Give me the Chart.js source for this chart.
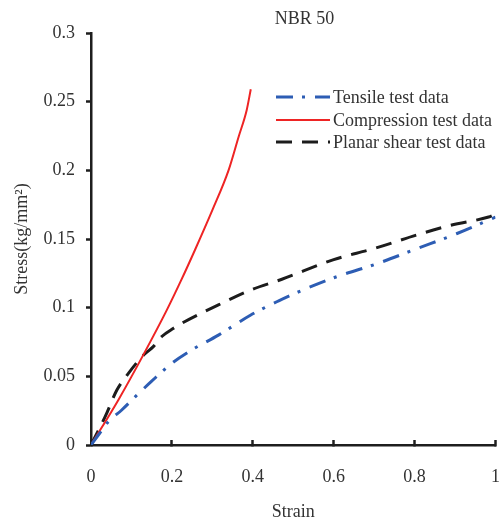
<!DOCTYPE html>
<html><head><meta charset="utf-8">
<script src="https://cdn.jsdelivr.net/npm/chart.js@4/dist/chart.umd.min.js"></script>
<style>html,body{margin:0;padding:0;background:#fff}</style>
</head><body>
<canvas id="c" width="500" height="523"></canvas>
<script>
const chartTitle = "NBR 50";
const xTitle = "Strain";
const yTitle = "Stress(kg/mm\u00B2)";
const seriesNames = ["Tensile test data", "Compression test data", "Planar shear test data"];

const tensileStrain = [0, 0.02, 0.043, 0.076, 0.109, 0.15, 0.2, 0.249, 0.315, 0.394, 0.464, 0.501, 0.608, 0.707, 0.806, 0.905, 1.0];
const tensileStress = [0, 0.008, 0.017, 0.0255, 0.035, 0.0465, 0.0595, 0.0692, 0.080, 0.0945, 0.105, 0.110, 0.1226, 0.132, 0.143, 0.154, 0.166];

const compStrain = [0, 0.068, 0.13, 0.187, 0.223, 0.257, 0.3, 0.34, 0.365, 0.385, 0.395];
const compStress = [0, 0.033, 0.066, 0.098, 0.120, 0.142, 0.171, 0.200, 0.2245, 0.244, 0.259];

const shearStrain = [0, 0.035, 0.064, 0.092, 0.13, 0.154, 0.175, 0.204, 0.224, 0.315, 0.396, 0.472, 0.6, 0.699, 0.806, 0.889, 0.983, 1.0];
const shearStress = [0, 0.0206, 0.040, 0.052, 0.0655, 0.0716, 0.079, 0.085, 0.0886, 0.102, 0.113, 0.1207, 0.135, 0.143, 0.153, 0.160, 0.166, 0.168];

const xMin = 0, xMax = 1, xStep = 0.2;
const yMin = 0, yMax = 0.3, yStep = 0.05;

function pts(xs, ys) { return xs.map((x, i) => ({x: x, y: ys[i]})); }

const FONT = "'Liberation Serif', 'DejaVu Serif', serif";
const TEXT = '#333';
const AXIS = '#1e1e1e';

const overlay = {
  id: 'overlay',
  afterDraw(chart) {
    const ctx = chart.ctx;
    ctx.save();
    ctx.fillStyle = TEXT;
    ctx.font = "18px " + FONT;
    ctx.textAlign = 'center';
    ctx.textBaseline = 'middle';
    ctx.fillText(chartTitle, 304.5, 19);
    const rows = [97, 120, 142];
    chart.data.datasets.forEach((ds, i) => {
      const y = rows[i];
      ctx.save();
      ctx.strokeStyle = ds.borderColor;
      ctx.lineWidth = ds.borderWidth;
      ctx.setLineDash(ds.borderDash || []);
      ctx.beginPath();
      ctx.moveTo(276, y);
      ctx.lineTo(330, y);
      ctx.stroke();
      ctx.restore();
      ctx.fillStyle = TEXT;
      ctx.textAlign = 'left';
      ctx.fillText(ds.label, 333, y + 1);
    });
    ctx.restore();
  }
};

new Chart(document.getElementById('c'), {
  type: 'scatter',
  data: {
    datasets: [
      {label: seriesNames[0], data: pts(tensileStrain, tensileStress), showLine: true, pointRadius: 0,
       borderColor: '#2d5db4', borderWidth: 3, borderDash: [17, 9, 3, 10], cubicInterpolationMode: 'monotone'},
      {label: seriesNames[1], data: pts(compStrain, compStress), showLine: true, pointRadius: 0,
       borderColor: '#ee2424', borderWidth: 2, cubicInterpolationMode: 'monotone'},
      {label: seriesNames[2], data: pts(shearStrain, shearStress), showLine: true, pointRadius: 0,
       borderColor: '#1c1c1c', borderWidth: 3, borderDash: [16, 10], cubicInterpolationMode: 'monotone'}
    ]
  },
  options: {
    responsive: false,
    animation: false,
    devicePixelRatio: 1,
    layout: {padding: {top: 33, right: 4, left: 0, bottom: 0}},
    plugins: {legend: {display: false}, title: {display: false}, tooltip: {enabled: false}},
    scales: {
      x: {
        type: 'linear', min: xMin, max: xMax,
        afterFit(s) { s.height = 78; s.paddingLeft = 0; s.paddingRight = 4.5; },
        border: {display: true, color: AXIS, width: 2.5},
        grid: {display: true, drawOnChartArea: false, drawTicks: true, tickLength: -5, tickWidth: 2.5, tickColor: AXIS},
        ticks: {stepSize: xStep, color: TEXT, font: {family: FONT, size: 18}, padding: 26,
                callback: v => String(Math.round(v * 10) / 10)},
        title: {display: true, text: xTitle, color: TEXT, font: {family: FONT, size: 18}, padding: {top: 0, bottom: 0}}
      },
      y: {
        type: 'linear', min: yMin, max: yMax,
        afterFit(s) { s.width = 91; },
        border: {display: true, color: AXIS, width: 2.5},
        grid: {display: true, drawOnChartArea: false, drawTicks: true, tickLength: 5, tickWidth: 2.5, tickColor: AXIS},
        ticks: {stepSize: yStep, color: TEXT, font: {family: FONT, size: 18}, padding: 11,
                callback: v => String(Math.round(v * 100) / 100)},
        title: {display: true, text: yTitle, color: TEXT, font: {family: FONT, size: 18}, padding: {top: 11, bottom: 0}}
      }
    }
  },
  plugins: [overlay]
});
</script>
</body></html>
